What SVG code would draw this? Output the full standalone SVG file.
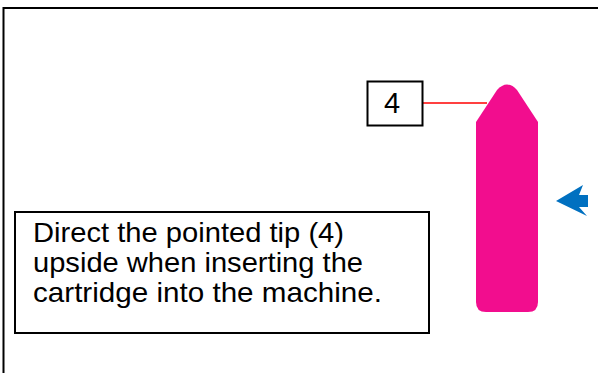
<svg xmlns="http://www.w3.org/2000/svg" width="598" height="373" viewBox="0 0 598 373">
<style>
.box{fill:#fff;stroke:#000;stroke-width:2}
.t{font-family:"Liberation Sans",Arial,sans-serif;fill:#000}
</style>
<rect width="598" height="373" fill="#fff"/>
<rect x="3.5" y="8" width="600" height="380" fill="none" stroke="#000" stroke-width="2"/>
<g id="cartridge">
<path d="M486,312 Q476,312 476,302 L476,122 L497,90 Q507,79 517,90 L538,122 L538,302 Q538,312 528,312 Z" fill="#F20D8E"/>
</g>
<g id="connectors">
<line x1="423" y1="103" x2="487" y2="103" stroke="#f00" stroke-width="1.5"/>
</g>
<g id="label4">
<rect class="box" x="367.5" y="81.5" width="55" height="44"/>
<text class="t" x="392" y="113" font-size="29" text-anchor="middle">4</text>
</g>
<g id="arrow">
<path d="M556,201 L583,185 L579,195 L588,195 L588,207 L579,207 L587,216 Z" fill="#0070C0"/>
</g>
<g id="note">
<rect class="box" x="15" y="212" width="414" height="121"/>
<text class="t" font-size="28">
<tspan x="33" y="242" textLength="311" lengthAdjust="spacingAndGlyphs">Direct the pointed tip (4)</tspan>
<tspan x="33" y="272" textLength="330" lengthAdjust="spacingAndGlyphs">upside when inserting the</tspan>
<tspan x="33" y="302" textLength="349" lengthAdjust="spacingAndGlyphs">cartridge into the machine.</tspan>
</text>
</g>
</svg>
